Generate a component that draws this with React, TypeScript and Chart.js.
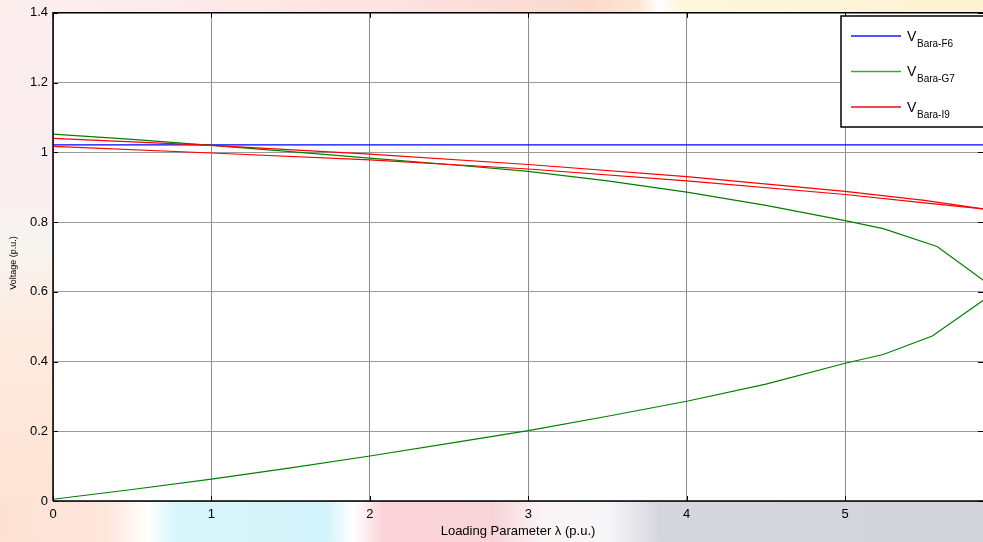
import React, { useEffect, useRef } from "react";
import { Chart, registerables } from "chart.js";

Chart.register(...registerables);

// ---- Data ----
const xTicks = [0, 1, 2, 3, 4, 5];
const yTicks = [0, 0.2, 0.4, 0.6, 0.8, 1, 1.2, 1.4];

const f6Lambda = [0, 1, 2, 3, 4, 5, 5.96];
const f6V = [1.021, 1.021, 1.021, 1.021, 1.021, 1.021, 1.021];

const g7UpperLambda = [0, 0.5, 1, 1.5, 2, 2.5, 3, 3.5, 4, 4.5, 5, 5.24, 5.58, 5.96];
const g7UpperV = [1.052, 1.037, 1.02, 1.002, 0.983, 0.965, 0.945, 0.918, 0.886, 0.848, 0.804, 0.781, 0.73, 0.604];
const g7LowerLambda = [5.96, 5.55, 5.24, 5, 4.5, 4, 3.5, 3, 2.5, 2, 1.5, 1, 0.5, 0];
const g7LowerV = [0.604, 0.473, 0.42, 0.395, 0.335, 0.286, 0.243, 0.202, 0.165, 0.129, 0.095, 0.063, 0.033, 0.005];

const i9UpperLambda = [0, 1, 2, 3, 4, 5, 5.5, 5.9];
const i9UpperV = [1.04, 1.02, 0.995, 0.965, 0.93, 0.888, 0.862, 0.836];
const i9LowerLambda = [5.9, 5.5, 5, 4, 3, 2, 1, 0];
const i9LowerV = [0.836, 0.855, 0.879, 0.918, 0.952, 0.978, 0.998, 1.017];

const legendLabels = ["Bara-F6", "Bara-G7", "Bara-I9"];
const yTitle = "Voltage (p.u.)";
const xTitle = "Loading Parameter λ (p.u.)";

const pts = (xs: number[], ys: number[]) => xs.map((x, i) => ({ x, y: ys[i] }));

const FONT = "'Liberation Sans', Arial, Helvetica, sans-serif";

const bgPlugin = {
  id: "bgPlugin",
  beforeDraw(chart: any) {
    const { ctx, width, height, chartArea } = chart;
    ctx.save();
    ctx.fillStyle = "#ffffff";
    ctx.fillRect(0, 0, width, height);
    // left strip
    let g = ctx.createLinearGradient(0, 0, 0, height);
    g.addColorStop(0, "#fdeeee");
    g.addColorStop(0.3, "#fbeeee");
    g.addColorStop(0.45, "#f8f4f0");
    g.addColorStop(0.6, "#fdebe0");
    g.addColorStop(1, "#fde2d2");
    ctx.fillStyle = g;
    ctx.fillRect(0, 0, chartArea.left, height);
    // top strip
    g = ctx.createLinearGradient(0, 0, width, 0);
    g.addColorStop(0, "#fdf0f0");
    g.addColorStop(0.4, "#fde2e2");
    g.addColorStop(0.6, "#fbd9cc");
    g.addColorStop(0.65, "#fbe6d6");
    g.addColorStop(0.67, "#ffffff");
    g.addColorStop(0.69, "#fdf7dc");
    g.addColorStop(1, "#fdf3d2");
    ctx.fillStyle = g;
    ctx.fillRect(chartArea.left, 0, width - chartArea.left, chartArea.top);
    // bottom strip
    g = ctx.createLinearGradient(0, 0, width, 0);
    g.addColorStop(0, "#fde2d4");
    g.addColorStop(0.11, "#fde6dc");
    g.addColorStop(0.15, "#ffffff");
    g.addColorStop(0.18, "#d6f6fb");
    g.addColorStop(0.33, "#d2f3f9");
    g.addColorStop(0.36, "#ffffff");
    g.addColorStop(0.39, "#fad3d8");
    g.addColorStop(0.5, "#f8d3d8");
    g.addColorStop(0.55, "#fbf3f4");
    g.addColorStop(0.62, "#f6f6f8");
    g.addColorStop(0.67, "#d6d6de");
    g.addColorStop(1, "#d3d3dc");
    ctx.fillStyle = g;
    ctx.fillRect(0, chartArea.bottom, width, height - chartArea.bottom);
    // plot area
    ctx.fillStyle = "#ffffff";
    ctx.fillRect(chartArea.left, chartArea.top, chartArea.right - chartArea.left, chartArea.bottom - chartArea.top);
    ctx.restore();
  },
  afterDraw(chart: any) {
    const { ctx, chartArea, scales } = chart;
    const { left, right, top, bottom } = chartArea;
    ctx.save();
    // box
    ctx.strokeStyle = "#000000";
    ctx.lineWidth = 1.5;
    ctx.beginPath();
    ctx.moveTo(left, bottom);
    ctx.lineTo(left, top);
    ctx.lineTo(right + 2, top);
    ctx.moveTo(left, bottom);
    ctx.lineTo(right + 2, bottom);
    ctx.stroke();
    // inward ticks
    ctx.lineWidth = 1;
    ctx.beginPath();
    scales.x.ticks.forEach((t: any) => {
      const x = Math.round(scales.x.getPixelForValue(t.value)) + 0.5;
      ctx.moveTo(x, bottom);
      ctx.lineTo(x, bottom - 5);
      ctx.moveTo(x, top);
      ctx.lineTo(x, top + 5);
    });
    scales.y.ticks.forEach((t: any) => {
      const y = Math.round(scales.y.getPixelForValue(t.value)) + 0.5;
      ctx.moveTo(left, y);
      ctx.lineTo(left + 5, y);
      ctx.moveTo(right, y);
      ctx.lineTo(right - 5, y);
    });
    ctx.stroke();

    // y axis title
    ctx.save();
    ctx.translate(14, 263);
    ctx.rotate(-Math.PI / 2);
    ctx.fillStyle = "#000000";
    ctx.font = `9px ${FONT}`;
    ctx.textAlign = "center";
    ctx.textBaseline = "middle";
    ctx.fillText(yTitle, 0, 0);
    ctx.restore();

    // legend
    const lx = 841, ly = 16, lw = 150, lh = 111;
    ctx.fillStyle = "#ffffff";
    ctx.fillRect(lx, ly, lw, lh);
    ctx.strokeStyle = "#000000";
    ctx.lineWidth = 1.5;
    ctx.strokeRect(lx, ly, lw, lh);
    const entries = chart.data.datasets.filter((d: any) => d.legendIndex !== undefined);
    entries.forEach((d: any) => {
      const rowY = 36 + d.legendIndex * 35.5;
      ctx.strokeStyle = d.legendColor;
      ctx.lineWidth = 1.3;
      ctx.beginPath();
      ctx.moveTo(851, rowY);
      ctx.lineTo(901, rowY);
      ctx.stroke();
      ctx.fillStyle = "#000000";
      ctx.textAlign = "left";
      ctx.textBaseline = "alphabetic";
      ctx.font = `14px ${FONT}`;
      ctx.fillText("V", 907, rowY + 4.5);
      ctx.font = `10px ${FONT}`;
      ctx.fillText(legendLabels[d.legendIndex], 917, rowY + 10.5);
    });
    ctx.restore();
  },
};

export default function App() {
  const ref = useRef<HTMLCanvasElement | null>(null);
  useEffect(() => {
    if (!ref.current) return;
    const lineDs = (data: any[], color: string, legendIndex?: number, legendColor?: string) => ({
      data,
      borderColor: color,
      backgroundColor: color,
      borderWidth: 1.2,
      pointRadius: 0,
      showLine: true,
      tension: 0,
      fill: false,
      legendIndex,
      legendColor: legendColor || color,
    });
    const chart = new Chart(ref.current, {
      type: "scatter",
      data: {
        datasets: [
          lineDs(pts(i9UpperLambda, i9UpperV), "#ff0000"),
          lineDs(pts(i9LowerLambda, i9LowerV), "#ff0000", 2, "#e01010"),
          lineDs(pts(g7UpperLambda, g7UpperV), "#008000", 1, "#3fa63f"),
          lineDs(pts(g7LowerLambda, g7LowerV), "#008000"),
          lineDs(pts(f6Lambda, f6V), "#0000ff", 0, "#1a1aff"),
        ] as any,
      },
      options: {
        animation: false,
        responsive: false,
        devicePixelRatio: 1,
        layout: { padding: { top: 12, right: 0, left: 0, bottom: 0 } },
        plugins: { legend: { display: false }, tooltip: { enabled: false } },
        scales: {
          x: {
            type: "linear",
            min: 0,
            max: 5.87,
            afterBuildTicks: (s: any) => {
              s.ticks = xTicks.map((v) => ({ value: v }));
            },
            afterFit: (s: any) => {
              s.height = 41;
            },
            ticks: {
              color: "#000000",
              font: { family: FONT, size: 13 },
              padding: 6,
              maxRotation: 0,
              callback: (v: any) => String(v),
            },
            grid: { color: "#8c8c8c", lineWidth: 1, drawTicks: false },
            border: { display: false },
            title: {
              display: true,
              text: xTitle,
              color: "#000000",
              font: { family: FONT, size: 13 },
              padding: { top: 0, bottom: 3 },
            },
          },
          y: {
            type: "linear",
            min: 0,
            max: 1.4,
            afterBuildTicks: (s: any) => {
              s.ticks = yTicks.map((v) => ({ value: v }));
            },
            afterFit: (s: any) => {
              s.width = 53;
            },
            ticks: {
              color: "#000000",
              font: { family: FONT, size: 13 },
              padding: 5,
              callback: (v: any) => String(+Number(v).toFixed(1)),
            },
            grid: { color: "#9a9a9a", lineWidth: 1, drawTicks: false },
            border: { display: false },
            title: { display: false },
          },
        },
      },
      plugins: [bgPlugin],
    } as any);
    return () => chart.destroy();
  }, []);
  return (
    <div style={{ position: "fixed", left: 0, top: 0, width: 983, height: 542 }}>
      <canvas ref={ref} width={983} height={542} style={{ display: "block" }} />
    </div>
  );
}
